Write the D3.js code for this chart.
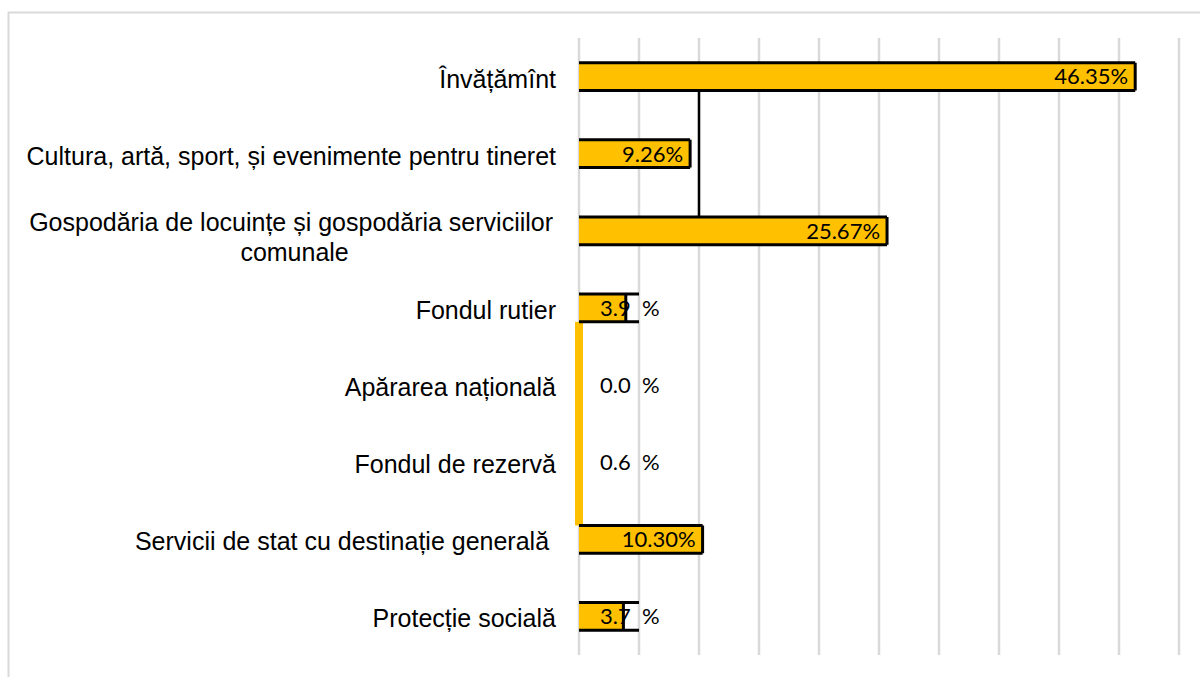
<!DOCTYPE html>
<html><head><meta charset="utf-8">
<script src="https://cdn.jsdelivr.net/npm/d3@7"></script>
<style>
html,body{margin:0;padding:0;background:#fff;}
svg{display:block;}
</style></head>
<body>
<svg id="chart" width="1200" height="677"></svg>
<script>
const categories = [
  "Învățămînt",
  "Cultura, artă, sport, și evenimente pentru tineret",
  "Gospodăria de locuințe și gospodăria serviciilor \ncomunale",
  "Fondul rutier",
  "Apărarea națională",
  "Fondul de rezervă",
  "Servicii de stat cu destinație generală ",
  "Protecție socială"
];
const values = [46.35, 9.26, 25.67, 3.9, 0.0, 0.6, 10.30, 3.7];
const valueLabels = ["46.35%", "9.26%", "25.67%", "3.9 %", "0.0 %", "0.6 %", "10.30%", "3.7 %"];
const xTicks = [0, 5, 10, 15, 20, 25, 30, 35, 40, 45, 50];

const svg = d3.select("#chart");
const mLeft = 579, mRight = 1179, mTop = 38, mBottom = 655;

// outer frame
svg.append("rect").attr("x", 8.5).attr("y", 12.5).attr("width", 1195).attr("height", 700)
  .attr("fill", "none").attr("stroke", "#d9d9d9").attr("stroke-width", 2);

const x = d3.scaleLinear().domain([0, 50]).range([mLeft, mRight]);
const y = d3.scaleBand().domain(categories).range([mTop, mBottom]).paddingInner(0.64).paddingOuter(0.32);

// gridlines
svg.append("g").selectAll("line").data(xTicks).join("line")
  .attr("x1", d => x(d)).attr("x2", d => x(d))
  .attr("y1", mTop).attr("y2", mBottom)
  .attr("stroke", "#d9d9d9").attr("stroke-width", 2.5);

const yellow = "#FFC000";
const bw = y.bandwidth();

// tiny-value strip (rendering of near-zero bars)
svg.append("rect")
  .attr("x", x(0) - 4).attr("width", 8)
  .attr("y", y(categories[3]) + bw).attr("height", y(categories[6]) - (y(categories[3]) + bw))
  .attr("fill", yellow);

// connector line
svg.append("line")
  .attr("x1", x(10)).attr("x2", x(10))
  .attr("y1", y(categories[0]) + bw).attr("y2", y(categories[2]))
  .attr("stroke", "#000").attr("stroke-width", 2.5);

const idx = d3.range(categories.length);
const barIdx = idx.filter(i => values[i] > 1);

// bar fills
svg.append("g").selectAll("rect").data(barIdx).join("rect")
  .attr("x", x(0)).attr("y", i => y(categories[i]))
  .attr("width", i => x(values[i]) - x(0)).attr("height", bw)
  .attr("fill", yellow);

// bar borders (top, right, bottom); small bars get a frame to the first gridline
svg.append("g").selectAll("path").data(barIdx).join("path")
  .attr("d", i => {
    const y0 = y(categories[i]), y1 = y0 + bw, xe = x(values[i]);
    const xf = Math.max(xe, x(5));
    return `M${x(0)},${y0}H${xf}M${xe},${y0}V${y1}M${x(0)},${y1}H${xf}`;
  })
  .attr("fill", "none").attr("stroke", "#000").attr("stroke-width", 3);

// value labels
const vl = svg.append("g")
  .attr("font-family", "Lato, 'Open Sans', sans-serif")
  .attr("font-size", 22)
  .attr("fill", "#000");
idx.forEach(i => {
  const cy = y(categories[i]) + bw / 2;
  const t = vl.append("text").attr("y", cy).attr("dy", "0.36em");
  if (values[i] > 5) {
    t.attr("x", x(values[i]) - 7).attr("text-anchor", "end").text(valueLabels[i]);
  } else {
    const parts = valueLabels[i].split(" ");
    t.append("tspan").attr("x", x(0) + 21).text(parts[0]);
    t.append("tspan").attr("x", x(5) + 3).text(parts[1]);
  }
});

// category labels
const lab = svg.append("g");
categories.forEach((c, i) => {
  const lines = c.split("\n");
  const cy = y(c) + bw / 2;
  const t = lab.append("text")
    .attr("xml:space", "preserve")
    .attr("font-family", "'Liberation Sans', Arial, sans-serif")
    .attr("font-size", 25)
    .attr("fill", "#000");
  if (lines.length === 1) {
    t.attr("x", x(0) - 23).attr("y", cy).attr("dy", "0.44em").attr("text-anchor", "end").text(c);
  } else {
    const lh = 30;
    lines.forEach((l, k) => {
      t.append("tspan").attr("y", cy + k * lh).text(l);
    });
    const tsp = t.selectAll("tspan").nodes();
    const maxW = d3.max(tsp, n => n.getComputedTextLength());
    const cx = x(0) - 19 - maxW / 2;
    t.attr("text-anchor", "middle").selectAll("tspan").attr("x", cx);
  }
});
</script>
</body></html>
